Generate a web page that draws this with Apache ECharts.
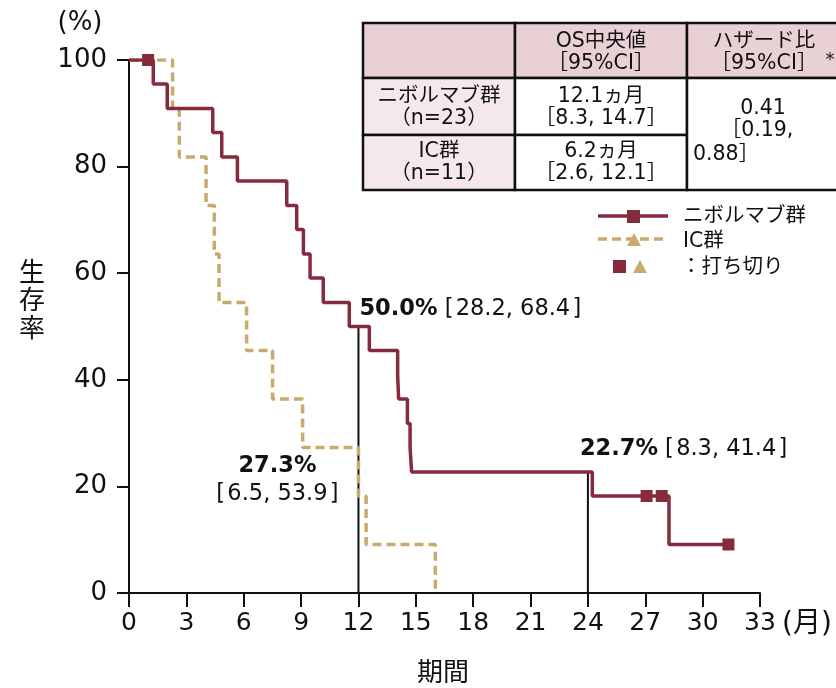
<!DOCTYPE html>
<html><head><meta charset="utf-8">
<script src="https://cdn.jsdelivr.net/npm/echarts@6/dist/echarts.min.js"></script>
<style>html,body{margin:0;padding:0;background:#fff}#c{width:836px;height:688px}</style>
</head><body><div id="c"></div>
<script>
const FONT = '"DejaVu Sans", "Noto Sans CJK JP", sans-serif';
const RED = '#862a3e';
const TAN = '#c9aa6c';

// Data
const xTickInterval = 3;
const yTickInterval = 20;
const nivoTimes = [0, 1.27, 2.0, 4.38, 4.85, 5.67, 8.25, 8.77, 9.12, 9.47, 10.16, 11.52, 12.57, 14.05, 14.1, 14.56, 14.7, 14.78, 24.23, 28.24, 31.35];
const nivoSurv  = [100, 95.5, 90.9, 86.4, 81.8, 77.3, 72.7, 68.2, 63.6, 59.1, 54.5, 50.0, 45.5, 40.9, 36.4, 31.8, 27.3, 22.7, 18.2, 9.1, 9.1];
const nivoCensorTimes = [1.0, 27.07, 27.86, 31.35];
const nivoCensorSurv  = [100, 18.2, 18.2, 9.1];
const icTimes = [0, 2.28, 2.63, 4.03, 4.46, 4.71, 6.15, 7.51, 9.08, 12.0, 12.4, 16.02];
const icSurv  = [100, 90.9, 81.8, 72.7, 63.6, 54.5, 45.5, 36.4, 27.3, 18.2, 9.1, 0];
const refTimes = [12, 24];
const refSurv  = [50.0, 22.7];
const annoX   = [12, 12, 24];
const annoY   = [50.0, 27.3, 22.7];
const annoPct = ['50.0%', '27.3%', '22.7%'];
const annoCI  = ['[\u200A28.2, 68.4\u200A]', '[\u200A6.5, 53.9\u200A]', '[\u200A8.3, 41.4\u200A]'];
const seriesNames = ['ニボルマブ群', 'IC群'];
const tableHeader = ['', 'OS中央値\n［95%CI］', 'ハザード比\n［95%CI］'];
const tableRowNames = ['ニボルマブ群\n（n=23）', 'IC群\n（n=11）'];
const tableMedians = ['12.1ヵ月\n［8.3, 14.7］', '6.2ヵ月\n［2.6, 12.1］'];
const hazardRatio = ['0.41', '［0.19,', '0.88］'];

const chart = echarts.init(document.getElementById('c'));

const zip = (a, b) => a.map((v, i) => [v, b[i]]);

// label layouts (style only)
const annoLayouts = [
  { position: [1, -17.5], align: 'left', verticalAlign: 'middle', sep: ' ' },
  { position: [-81, 5], align: 'center', verticalAlign: 'top', sep: '\n' },
  { position: [-8, -23], align: 'left', verticalAlign: 'middle', sep: ' ' }
];

const txt = (text, x, y, opts = {}) => ({
  type: 'text', z: 100,
  style: Object.assign({ text, x, y, font: '20.5px ' + FONT, fill: '#111', textAlign: 'center', textVerticalAlign: 'middle', lineHeight: 22 }, opts)
});

const rect = (x, y, w, h, fill) => ({
  type: 'rect', z: 90,
  shape: { x, y, width: w, height: h },
  style: { fill, stroke: '#111', lineWidth: 2.5 }
});

const HEAD = '#e9d0d5', SIDE = '#f5e8eb';
const colX = [363, 515, 687, 860];
const rowY = [23, 78, 135, 190];

const graphics = [
  // table
  rect(colX[0], rowY[0], colX[1] - colX[0], rowY[1] - rowY[0], HEAD),
  rect(colX[1], rowY[0], colX[2] - colX[1], rowY[1] - rowY[0], HEAD),
  rect(colX[2], rowY[0], colX[3] - colX[2], rowY[1] - rowY[0], HEAD),
  rect(colX[0], rowY[1], colX[1] - colX[0], rowY[2] - rowY[1], SIDE),
  rect(colX[0], rowY[2], colX[1] - colX[0], rowY[3] - rowY[2], SIDE),
  rect(colX[1], rowY[1], colX[2] - colX[1], rowY[2] - rowY[1], '#fff'),
  rect(colX[1], rowY[2], colX[2] - colX[1], rowY[3] - rowY[2], '#fff'),
  rect(colX[2], rowY[1], colX[3] - colX[2], rowY[3] - rowY[1], '#fff'),
  txt(tableHeader[1], 601, 53),
  txt(tableHeader[2], 764, 53),
  txt('*', 830, 60, { font: '18px ' + FONT }),
  txt(tableRowNames[0], 439, 108),
  txt(tableRowNames[1], 439, 163),
  txt(tableMedians[0], 601, 108),
  txt(tableMedians[1], 601, 163),
  txt(hazardRatio[0], 763, 109),
  txt(hazardRatio[1], 757, 131),
  txt(hazardRatio[2], 693, 155, { textAlign: 'left' }),
  // legend
  { type: 'line', z: 100, shape: { x1: 598, y1: 216, x2: 668, y2: 216 }, style: { stroke: RED, lineWidth: 3.5 } },
  { type: 'rect', z: 101, shape: { x: 627, y: 210, width: 13, height: 13 }, style: { fill: RED } },
  txt(seriesNames[0], 683, 217, { textAlign: 'left' }),
  { type: 'line', z: 100, shape: { x1: 598, y1: 239, x2: 668, y2: 239 }, style: { stroke: TAN, lineWidth: 3.5, lineDash: [9, 5] } },
  { type: 'polygon', z: 101, shape: { points: [[634, 233], [641, 246], [627, 246]] }, style: { fill: TAN } },
  txt(seriesNames[1], 683, 242, { textAlign: 'left' }),
  { type: 'rect', z: 101, shape: { x: 613, y: 260, width: 13, height: 13 }, style: { fill: RED } },
  { type: 'polygon', z: 101, shape: { points: [[640, 260], [647, 273], [633, 273]] }, style: { fill: TAN } },
  txt('：打ち切り', 681, 268, { textAlign: 'left' }),
  // axis titles
  txt('(%)', 80, 23, { font: '26px ' + FONT }),
  txt('生\n存\n率', 32, 302, { font: '26px ' + FONT, lineHeight: 28 }),
  txt('(月)', 807, 625, { font: '28px ' + FONT }),
  txt('期間', 443, 674, { font: '26px ' + FONT })
];

const option = {
  animation: false,
  backgroundColor: '#fff',
  grid: { left: 129, right: 76, top: 60, bottom: 95 },
  xAxis: {
    type: 'value', min: 0, max: 33, interval: xTickInterval,
    axisLine: { show: true, onZero: false, lineStyle: { color: '#111', width: 2 } },
    axisTick: { show: true, length: 14, lineStyle: { color: '#111', width: 2 } },
    axisLabel: { fontSize: 25, color: '#111', fontFamily: FONT, margin: 18 },
    splitLine: { show: false }
  },
  yAxis: {
    type: 'value', min: 0, max: 100, interval: yTickInterval,
    axisLine: { show: true, lineStyle: { color: '#111', width: 2 } },
    axisTick: { show: true, length: 12, lineStyle: { color: '#111', width: 2 } },
    axisLabel: { fontSize: 26, color: '#111', fontFamily: FONT, margin: 22 },
    splitLine: { show: false }
  },
  series: [
    ...refTimes.map((t, i) => ({
      type: 'line', z: 2, symbol: 'none', silent: true,
      data: [[t, 0], [t, refSurv[i]]],
      lineStyle: { color: '#111', width: 2 }
    })),
    {
      name: seriesNames[1], type: 'line', step: 'end', z: 3, symbol: 'none',
      data: zip(icTimes, icSurv),
      lineStyle: { color: TAN, width: 3.5, type: [9, 5] }
    },
    {
      name: seriesNames[0], type: 'line', step: 'end', z: 4, symbol: 'none',
      data: zip(nivoTimes, nivoSurv),
      lineStyle: { color: RED, width: 3.5 }
    },
    {
      type: 'scatter', z: 5, symbol: 'rect', symbolSize: 12,
      itemStyle: { color: RED, opacity: 1 },
      data: zip(nivoCensorTimes, nivoCensorSurv)
    },
    {
      type: 'scatter', z: 6, symbolSize: 0, silent: true,
      itemStyle: { opacity: 1 },
      data: annoX.map((x, i) => ({
        value: [x, annoY[i]],
        label: {
          show: true,
          color: '#111',
          position: annoLayouts[i].position,
          align: annoLayouts[i].align,
          verticalAlign: annoLayouts[i].verticalAlign,
          lineHeight: 28,
          formatter: '{b|' + annoPct[i] + '}' + annoLayouts[i].sep.replace(' ', '') + '{n|' + annoLayouts[i].sep.replace('\n', '') + annoCI[i] + '}',
          rich: {
            b: { fontSize: 22.5, fontWeight: 'bold', fontFamily: FONT, color: '#111', lineHeight: 28 },
            n: { fontSize: 22.5, fontFamily: FONT, color: '#111', lineHeight: 28 }
          }
        }
      }))
    }
  ],
  graphic: graphics
};
chart.setOption(option);
</script>
</body></html>
